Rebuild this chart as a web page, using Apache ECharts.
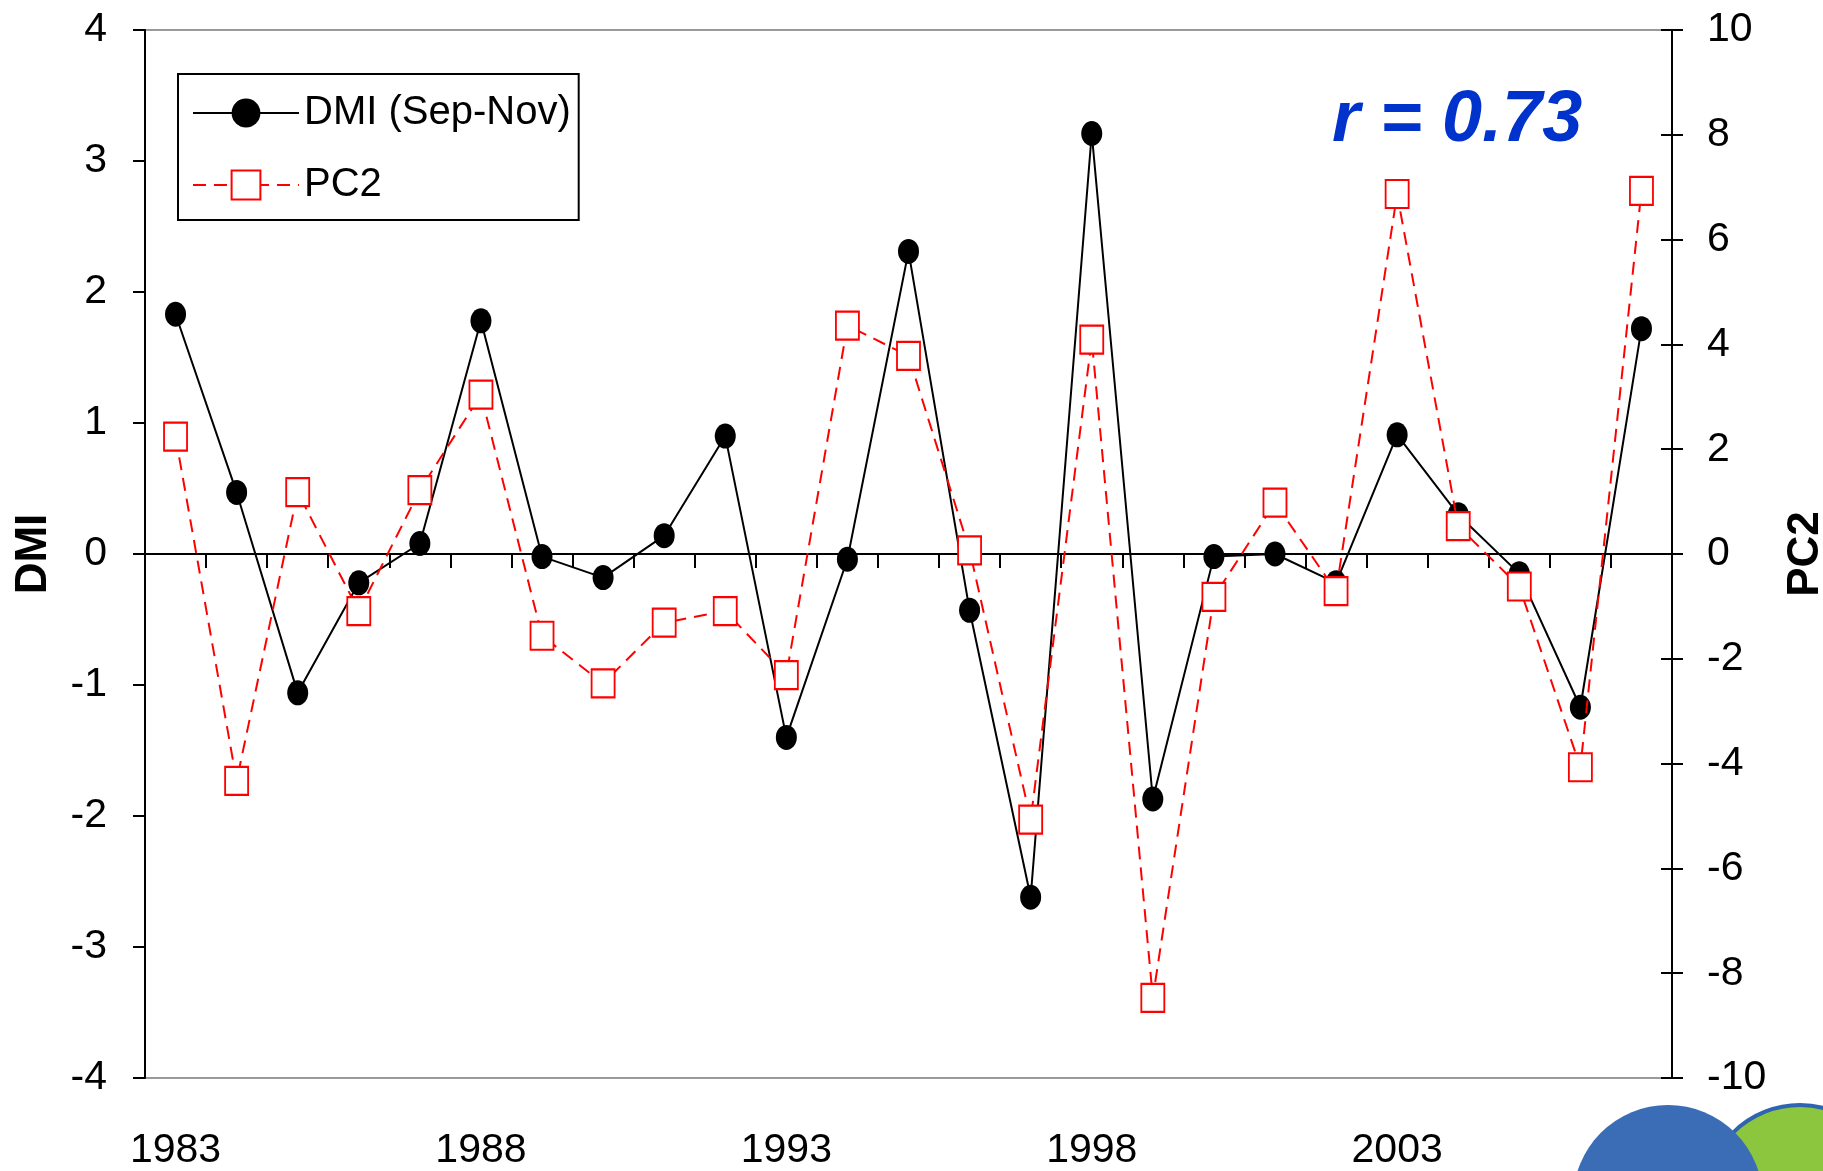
<!DOCTYPE html>
<html>
<head>
<meta charset="utf-8">
<script src="https://cdn.jsdelivr.net/npm/echarts@6/dist/echarts.min.js"></script>
<style>
html,body{margin:0;padding:0;background:#fff;}
#chart{width:1823px;height:1171px;}
</style>
</head>
<body>
<div id="chart"></div>
<script>
var years = ['1983','1984','1985','1986','1987','1988','1989','1990','1991','1992','1993','1994','1995','1996','1997','1998','1999','2000','2001','2002','2003','2004','2005','2006','2007'];
var dmi = [1.83, 0.47, -1.06, -0.22, 0.08, 1.78, -0.02, -0.18, 0.14, 0.90, -1.40, -0.04, 2.31, -0.43, -2.62, 3.21, -1.87, -0.02, 0.00, -0.22, 0.91, 0.30, -0.15, -1.17, 1.72];
var pc2 = [2.24, -4.33, 1.18, -1.09, 1.22, 3.04, -1.56, -2.47, -1.31, -1.09, -2.31, 4.36, 3.78, 0.07, -5.07, 4.09, -8.47, -0.82, 0.98, -0.71, 6.87, 0.53, -0.62, -4.07, 6.93];
var leftTicks = {min: -4, max: 4, interval: 1};
var rightTicks = {min: -10, max: 10, interval: 2};
var dmiName = 'DMI (Sep-Nov)';
var pc2Name = 'PC2';
var rText = 'r = 0.73';

var narrow = "'Liberation Sans Narrow', 'Arial Narrow', 'Liberation Sans', Arial, sans-serif";
var chart = echarts.init(document.getElementById('chart'), null, {renderer: 'canvas'});
var option = {
  backgroundColor: '#ffffff',
  animation: false,
  title: {
    text: rText,
    left: 1327,
    top: 80,
    textStyle: {fontFamily: "'Liberation Sans', Arial, sans-serif", fontSize: 72, fontWeight: 'bold', fontStyle: 'italic', color: '#0033cc'}
  },
  legend: {
    orient: 'vertical',
    left: 178,
    top: 74,
    padding: [14, 8, 10, 14],
    borderColor: '#000',
    borderWidth: 2,
    backgroundColor: '#fff',
    itemWidth: 106,
    itemHeight: 36,
    itemGap: 22,
    data: [dmiName, pc2Name],
    textStyle: {fontFamily: narrow, fontSize: 40, color: '#000', lineHeight: 50}
  },
  grid: {
    left: 145, right: 151, top: 30, bottom: 93,
    show: true, borderColor: '#9a9a9a', borderWidth: 2, backgroundColor: 'transparent',
    containLabel: false, outerBoundsMode: 'none'
  },
  xAxis: [{
    type: 'category',
    data: years,
    boundaryGap: true,
    axisLine: {onZero: true, lineStyle: {color: '#000', width: 2}},
    axisTick: {show: true, inside: false, length: 14, interval: 0, lineStyle: {color: '#000', width: 2}},
    axisLabel: {show: false},
    splitLine: {show: false}
  }, {
    type: 'category',
    data: years,
    boundaryGap: true,
    position: 'bottom',
    axisLine: {show: false, onZero: false},
    axisTick: {show: false},
    axisLabel: {show: true, interval: 4, margin: 52, fontFamily: narrow, fontSize: 41, color: '#000'},
    splitLine: {show: false}
  }],
  yAxis: [{
    type: 'value',
    position: 'left',
    min: leftTicks.min, max: leftTicks.max, interval: leftTicks.interval,
    name: 'DMI',
    nameLocation: 'middle',
    nameRotate: 90,
    nameGap: 89,
    nameTextStyle: {fontFamily: "'Liberation Sans', Arial, sans-serif", fontSize: 44, fontWeight: 'bold', color: '#000'},
    axisLine: {show: true, lineStyle: {color: '#000', width: 2}},
    axisTick: {show: true, inside: false, length: 12, lineStyle: {color: '#000', width: 2}},
    axisLabel: {margin: 38, fontFamily: narrow, fontSize: 41, color: '#000'},
    splitLine: {show: false}
  }, {
    type: 'value',
    position: 'right',
    min: rightTicks.min, max: rightTicks.max, interval: rightTicks.interval,
    name: 'PC2',
    nameLocation: 'middle',
    nameRotate: 90,
    nameGap: 112,
    nameTextStyle: {fontFamily: "'Liberation Sans', Arial, sans-serif", fontSize: 44, fontWeight: 'bold', color: '#000'},
    axisLine: {show: true, lineStyle: {color: '#000', width: 2}},
    axisTick: {show: true, inside: false, length: 11, lineStyle: {color: '#000', width: 2}},
    axisLabel: {margin: 35, fontFamily: narrow, fontSize: 41, color: '#000'},
    splitLine: {show: false}
  }, {
    type: 'value',
    position: 'right',
    min: rightTicks.min, max: rightTicks.max, interval: rightTicks.interval,
    axisLine: {show: false},
    axisTick: {show: true, inside: true, length: 11, lineStyle: {color: '#000', width: 2}},
    axisLabel: {show: false},
    splitLine: {show: false}
  }],
  series: [{
    name: dmiName,
    type: 'line',
    xAxisIndex: 0,
    yAxisIndex: 0,
    data: dmi,
    symbol: 'circle',
    symbolSize: [21, 25],
    itemStyle: {color: '#000'},
    lineStyle: {color: '#000', width: 2, type: 'solid'},
    z: 2
  }, {
    name: pc2Name,
    type: 'line',
    xAxisIndex: 0,
    yAxisIndex: 1,
    data: pc2,
    symbol: 'rect',
    symbolSize: [23, 28],
    itemStyle: {color: '#fff', borderColor: '#ff0000', borderWidth: 2},
    lineStyle: {color: '#ff0000', width: 2, type: [13, 8]},
    z: 3
  }],
  graphic: [{
    type: 'circle', z: 10,
    shape: {cx: 1800, cy: 1200, r: 95},
    style: {fill: '#8cc63e', stroke: '#2f64b0', lineWidth: 4}
  }, {
    type: 'circle', z: 11,
    shape: {cx: 1668, cy: 1200, r: 95},
    style: {fill: '#3a6db5'}
  }]
};
chart.setOption(option);
</script>
</body>
</html>
